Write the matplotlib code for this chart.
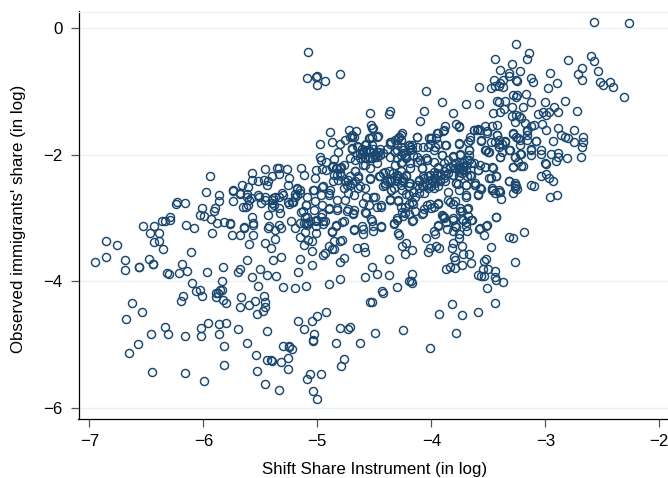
import matplotlib
matplotlib.use("Agg")
import matplotlib.pyplot as plt
import numpy as np

# (shift share instrument, observed share), both in log
low_left = [(-6.95,-3.69),(-6.85,-3.62),(-6.85,-3.37),(-6.76,-3.42),(-6.69,-3.66),(-6.69,-3.82),(-6.56,-3.78),(-6.56,-3.77),
    (-6.48,-3.64),(-6.44,-3.73),(-6.44,-3.72),(-6.32,-3.87),(-6.30,-3.88),(-6.21,-3.87),(-6.14,-3.83),(-6.19,-3.72),
    (-6.11,-3.54),(-6.35,-3.49),(-6.43,-3.38),(-6.39,-3.36),(-6.47,-3.23),(-6.39,-3.23),(-6.53,-3.13),(-6.43,-3.12),
    (-6.36,-3.05),(-6.34,-3.04),(-6.29,-3.03),(-6.29,-2.98),(-6.24,-2.78),(-6.23,-2.75),(-6.16,-2.76),(-6.15,-3.11),
    (-6.08,-3.15),(-5.98,-2.58),(-6.01,-2.84),(-6.03,-2.95),(-5.99,-2.96),(-5.91,-2.89),(-5.90,-2.84),(-5.86,-2.64),
    (-5.86,-2.73),(-5.74,-2.57),(-5.93,-3.02),(-5.88,-3.08),(-5.82,-3.06),(-5.77,-3.09),(-5.92,-3.23),(-5.75,-3.27),
    (-5.68,-3.26),(-5.64,-3.15),(-5.56,-3.27),(-5.60,-3.41),(-5.46,-3.39),(-5.41,-3.48),(-5.37,-3.33),(-5.43,-3.15),
    (-5.94,-2.33),(-5.97,-3.86),(-5.83,-3.78),(-5.70,-3.85),(-5.68,-3.81),(-5.62,-3.67),(-5.57,-3.93),(-5.50,-3.81),
    (-5.44,-3.90),(-5.36,-3.91),(-5.39,-3.67),(-5.32,-3.62),(-5.15,-3.64),(-5.17,-3.86),(-5.05,-3.74),(-5.05,-3.52),
    (-4.95,-3.59),(-4.93,-3.55),(-4.80,-3.70),(-4.77,-3.63),(-4.80,-3.97),(-4.90,-4.05),(-5.10,-4.08),(-5.20,-4.10),
    (-5.30,-4.09),(-5.52,-4.08),(-4.58,-3.93),(-5.84,-3.99),(-6.10,-4.02),(-6.03,-4.13),(-6.06,-4.16),(-6.01,-4.24),
    (-6.18,-4.24),(-6.20,-4.31),(-5.89,-4.25),(-5.89,-4.19),(-5.87,-4.18),(-5.84,-4.13),(-5.85,-4.13),(-5.83,-4.30),
    (-5.80,-4.34),(-5.67,-4.25),(-5.68,-4.40),(-5.60,-4.38),(-5.55,-4.31),(-5.47,-4.24),(-5.46,-4.33),(-5.46,-4.41),
    (-5.48,-4.47),(-5.53,-4.51),(-4.54,-4.33)]

bottom_tail = [(-6.63,-4.35),(-6.54,-4.48),(-6.68,-4.59),(-6.46,-4.83),(-6.34,-4.72),(-6.31,-4.83),(-6.57,-4.99),(-6.65,-5.13),
    (-6.16,-4.86),(-6.02,-4.86),(-6.02,-4.74),(-5.96,-4.66),(-5.86,-4.68),(-5.80,-4.66),(-5.86,-4.83),(-5.70,-4.75),
    (-5.44,-4.78),(-5.62,-4.97),(-5.82,-5.03),(-5.82,-5.33),(-5.54,-5.17),(-5.53,-5.42),(-6.45,-5.44),(-6.16,-5.45),
    (-5.99,-5.58),(-5.46,-5.63),(-5.34,-5.72),(-5.44,-5.25),(-5.41,-5.25),(-5.40,-5.26),(-5.32,-5.28),(-5.26,-5.21),
    (-5.26,-5.38),(-5.30,-5.03),(-5.25,-5.03),(-5.25,-5.04),(-5.22,-5.07),(-5.17,-4.63),(-5.12,-4.75),(-5.05,-4.63),
    (-5.00,-4.55),(-4.92,-4.48),(-5.03,-4.83),(-5.04,-4.93),(-5.04,-4.95),(-4.84,-4.98),(-4.80,-4.74),(-4.73,-4.76),
    (-4.71,-4.73),(-4.63,-4.97),(-4.77,-5.23),(-4.79,-5.34),(-4.97,-5.46),(-5.06,-5.46),(-5.09,-5.54),(-5.04,-5.74),
    (-5.00,-5.86),(-4.25,-4.77),(-4.49,-4.82),(-3.78,-4.81),(-4.01,-5.05),(-3.82,-4.36),(-3.73,-4.54),(-3.93,-4.51),
    (-3.59,-4.48),(-3.44,-4.34),(-4.43,-4.16),(-4.42,-4.19),(-4.52,-4.33),(-4.30,-4.09)]

mid_left = [(-4.87,-3.22),(-4.78,-3.06),(-4.84,-3.13),(-4.68,-3.19),(-4.60,-3.25),(-4.65,-3.48),(-4.59,-3.46),(-4.58,-3.53),
    (-4.78,-3.34),(-4.80,-3.36),(-4.85,-3.37),(-4.90,-3.44),(-4.87,-3.49),(-4.85,-3.49),(-5.12,-3.42),(-5.15,-3.30),
    (-5.05,-3.36),(-5.08,-3.34),(-5.11,-3.22),(-5.01,-3.23),(-5.14,-2.91),(-5.09,-2.98),(-5.12,-3.07),(-5.10,-3.08),
    (-5.08,-3.07),(-5.06,-3.04),(-5.01,-3.05),(-5.01,-3.12),(-4.95,-3.09),(-4.93,-3.05),(-4.96,-2.93),(-4.97,-2.98),
    (-4.90,-2.85),(-4.83,-2.87),(-4.73,-2.85),(-4.68,-2.87),(-4.69,-2.93),(-4.57,-2.92),(-5.10,-2.80),(-5.02,-2.73),
    (-5.04,-2.56),(-4.90,-2.61),(-4.96,-2.51),(-5.18,-2.54),(-5.15,-2.56),(-5.20,-2.62),(-5.18,-2.64),(-5.22,-2.75),
    (-5.25,-2.77),(-5.21,-2.74),(-5.30,-2.64),(-5.34,-2.66),(-5.37,-2.67),(-5.40,-2.71),(-5.38,-2.79),(-5.40,-2.82),
    (-5.46,-2.71),(-5.51,-2.67),(-5.58,-2.68),(-5.62,-2.62),(-5.60,-2.71),(-5.68,-2.62),(-5.63,-2.82)]

band_left = [(-5.74,-2.56),(-5.74,-2.73),(-5.66,-2.48),(-5.68,-2.61),(-5.62,-2.66),(-5.61,-2.79),(-5.65,-2.82),(-5.61,-2.51),
    (-5.57,-2.29),(-5.57,-2.39),(-5.52,-2.42),(-5.47,-2.40),(-5.46,-2.23),(-5.40,-2.34),(-5.35,-2.20),(-5.34,-2.20),
    (-5.34,-2.31),(-5.27,-2.22),(-5.14,-2.21),(-5.12,-2.32),(-5.25,-2.37),(-5.44,-2.48),(-5.43,-2.42),(-5.26,-2.48),
    (-5.31,-2.61),(-5.39,-2.68),(-5.40,-2.76),(-5.49,-2.76),(-5.52,-2.63),(-5.46,-2.67),(-5.34,-2.84),(-5.33,-2.92),
    (-5.43,-2.95),(-5.57,-2.99),(-5.56,-3.08),(-5.56,-3.11),(-5.64,-3.14),(-5.77,-3.08),(-5.42,-3.13),(-5.34,-3.11),
    (-5.32,-3.16),(-5.37,-3.19),(-5.23,-3.04),(-5.20,-3.15),(-5.26,-2.75),(-5.21,-2.75),(-5.18,-2.53),(-5.15,-2.61),
    (-5.20,-2.66),(-5.09,-2.66),(-5.10,-2.79),(-5.13,-2.89),(-5.11,-2.98),(-5.15,-3.08),(-5.09,-3.11),(-5.03,-2.55),
    (-5.02,-2.37),(-4.95,-2.49),(-4.97,-2.63),(-4.96,-2.79),(-5.03,-2.87),(-5.01,-3.03),(-4.95,-3.05),(-4.90,-2.84),
    (-4.83,-2.84),(-4.84,-3.11),(-4.77,-3.04),(-4.87,-3.21),(-4.68,-3.18),(-4.61,-3.13),(-4.60,-3.17),(-4.51,-3.13),
    (-4.44,-3.12),(-4.53,-3.01),(-4.58,-2.90),(-4.69,-2.92),(-4.74,-2.89),(-4.90,-2.63),(-4.89,-2.55),(-4.83,-2.71),
    (-4.76,-2.71),(-5.01,-2.24),(-4.96,-2.23),(-4.92,-2.24),(-4.98,-2.03),(-4.97,-2.08),(-4.92,-2.12),(-4.85,-2.07),
    (-4.82,-1.96),(-4.98,-1.82),(-4.89,-1.64),(-4.87,-1.80),(-4.80,-1.83),(-4.76,-1.76),(-4.72,-1.60),(-4.66,-1.63),
    (-4.70,-1.71),(-4.70,-1.89),(-4.64,-1.87),(-4.52,-1.57),(-4.48,-1.71),(-4.54,-1.74),(-4.58,-1.84),(-4.55,-1.92),
    (-4.51,-1.90),(-4.46,-1.95),(-4.65,-2.00),(-4.61,-1.99),(-4.71,-2.05),(-4.67,-2.08),(-4.58,-2.16),(-4.52,-2.05),
    (-4.48,-2.13),(-4.58,-2.05),(-4.45,-2.00),(-4.79,-2.19),(-4.83,-2.21),(-4.87,-2.19),(-4.80,-2.29),(-4.82,-2.40),
    (-4.86,-2.42),(-4.76,-2.42),(-4.71,-2.48),(-4.67,-2.25),(-4.64,-2.37),(-4.73,-2.61),(-4.68,-2.63),(-4.64,-2.53),
    (-4.54,-2.37),(-4.46,-2.34),(-4.41,-2.27),(-4.34,-2.29),(-4.36,-1.79),(-4.29,-1.74),(-4.30,-2.05),(-4.36,-2.40),
    (-4.41,-2.45),(-4.33,-2.53),(-4.30,-2.37),(-4.36,-2.71),(-4.48,-2.82),(-4.44,-2.80),(-4.55,-2.79),(-4.51,-2.66),
    (-4.60,-2.76),(-4.57,-2.66),(-4.30,-3.03),(-4.33,-3.08)]

top_mid = [(-5.08,-0.38),(-5.09,-0.78),(-5.01,-0.77),(-5.00,-0.76),(-5.00,-0.90),(-4.93,-0.83),(-4.80,-0.72),(-4.05,-0.99),
    (-4.06,-1.30),(-4.10,-1.47),(-4.54,-1.34),(-4.36,-1.31),(-4.37,-1.36),(-4.53,-1.53),(-4.51,-1.58),(-4.70,-1.68),
    (-4.68,-1.71),(-4.71,-1.72),(-4.47,-1.70),(-4.52,-1.72),(-4.55,-1.74),(-4.27,-1.69),(-4.28,-1.71),(-4.13,-1.71),
    (-4.35,-1.79),(-4.20,-1.84),(-4.17,-1.84),(-4.02,-1.74),(-4.70,-1.90),(-4.65,-1.86),(-4.57,-1.82),(-4.63,-1.97),
    (-4.60,-1.95),(-4.57,-1.92),(-4.54,-1.96),(-4.48,-1.95),(-4.58,-2.03),(-4.54,-2.05),(-4.49,-2.03),(-4.45,-1.91),
    (-4.42,-1.97),(-4.39,-1.90),(-4.36,-2.03),(-4.32,-1.95),(-4.27,-1.87),(-4.25,-1.97),(-4.22,-2.03),(-4.19,-1.92),
    (-4.16,-2.00),(-4.13,-1.87),(-4.10,-2.08),(-4.05,-2.05),(-4.03,-1.87),(-4.13,-2.11),(-4.19,-2.13),(-4.27,-2.13),
    (-4.86,-2.18),(-4.80,-2.21),(-4.77,-2.16),(-4.79,-2.34),(-4.85,-2.32),(-4.71,-2.34),(-4.67,-2.26),(-4.64,-2.34),
    (-4.60,-2.16),(-4.54,-2.21),(-4.54,-2.38),(-4.67,-2.42),(-4.63,-2.50),(-4.58,-2.53),(-4.45,-2.34),(-4.42,-2.29),
    (-4.37,-2.26),(-4.30,-2.32),(-4.27,-2.26),(-4.25,-2.37),(-4.22,-2.34),(-4.30,-2.42),(-4.27,-2.47),(-4.39,-2.42),
    (-4.42,-2.50),(-4.20,-2.45),(-4.11,-2.42),(-4.08,-2.21),(-4.04,-2.08),(-4.07,-2.34),(-4.04,-2.47),(-4.03,-2.34)]

upper_right = [(-2.57,0.10),(-2.27,0.08),(-3.26,-0.24),(-3.14,-0.39),(-3.16,-0.48),(-3.44,-0.49),(-3.29,-0.57),(-3.40,-0.65),
    (-3.22,-0.67),(-3.32,-0.71),(-3.32,-0.76),(-3.45,-0.82),(-3.37,-0.81),(-3.26,-0.81),(-3.25,-0.83),(-3.13,-0.78),
    (-3.11,-0.84),(-3.58,-0.93),(-3.48,-0.95),(-3.44,-0.91),(-3.40,-0.87),(-3.41,-0.91),(-3.37,-0.93),(-2.98,-0.94),
    (-2.90,-0.87),(-2.96,-0.71),(-2.80,-0.50),(-2.60,-0.43),(-2.57,-0.52),(-2.68,-0.62),(-2.71,-0.72),(-2.68,-0.82),
    (-2.54,-0.67),(-2.52,-0.84),(-2.49,-0.90),(-2.43,-0.84),(-2.41,-0.92),(-2.31,-1.08),(-2.83,-1.15),(-2.72,-1.31),
    (-3.00,-1.17),(-2.92,-1.25),(-2.89,-1.32),(-3.02,-1.32),(-2.99,-1.37),(-2.97,-1.32),(-3.06,-1.36),(-3.28,-1.05),
    (-3.25,-1.05),(-3.26,-1.08),(-3.17,-1.04),(-3.13,-1.17),(-3.41,-1.16),(-3.42,-1.15),(-3.35,-1.14),(-3.29,-1.24),
    (-3.20,-1.25),(-3.46,-1.34),(-3.40,-1.32),(-3.36,-1.27),(-3.29,-1.38),(-3.26,-1.37),(-3.23,-1.38),(-3.21,-1.42),
    (-3.18,-1.49),(-3.27,-1.48),(-3.10,-1.53),(-3.13,-1.55),(-3.16,-1.61),(-3.16,-1.69),(-3.03,-1.51),(-2.99,-1.61),
    (-2.89,-1.58),(-2.75,-1.61),(-2.86,-1.69),(-2.83,-1.72),(-2.80,-1.73),(-2.75,-1.79),(-2.67,-1.72),(-2.67,-1.79),
    (-2.68,-1.88),(-2.93,-1.78),(-3.08,-1.78),(-3.28,-1.67),(-3.26,-1.72),(-3.22,-1.76),(-3.22,-1.84),(-3.16,-1.76),
    (-3.13,-1.92),(-3.13,-2.00),(-3.04,-1.93),(-3.04,-1.99),(-2.95,-1.99),(-2.89,-1.97),(-2.89,-2.03),(-2.91,-2.10),
    (-2.81,-2.05),(-2.69,-2.04),(-3.00,-2.13),(-2.99,-2.14),(-3.04,-2.33),(-2.99,-2.30),(-2.97,-2.36),(-2.93,-2.41),
    (-3.27,-2.03),(-3.22,-1.98),(-3.24,-2.11),(-3.20,-2.17),(-3.28,-2.19),(-3.32,-2.42),(-3.27,-2.44),(-3.26,-2.50),
    (-3.13,-2.48),(-3.10,-2.49),(-2.96,-2.66),(-2.90,-2.64)]

core_right = [(-3.42,-1.53),(-3.47,-1.54),(-3.53,-1.55),(-3.51,-1.63),(-3.57,-1.61),(-3.63,-1.60),(-3.60,-1.60),(-3.66,-1.71),
    (-3.56,-1.76),(-3.42,-1.68),(-3.41,-1.76),(-3.48,-1.80),(-3.44,-1.79),(-3.41,-1.87),(-3.35,-1.79),(-3.38,-1.83),
    (-3.32,-1.92),(-3.40,-2.04),(-3.38,-1.95),(-3.52,-1.93),(-3.49,-1.96),(-3.68,-1.79),(-3.76,-1.82),(-3.67,-1.92),
    (-3.67,-2.00),(-3.67,-2.08),(-3.65,-2.13),(-3.91,-1.17),(-3.70,-1.19),(-3.58,-1.19),(-3.81,-1.34),(-3.78,-1.51),
    (-3.76,-1.55),(-3.88,-1.55),(-3.90,-1.62),(-3.94,-1.66),(-3.96,-1.74),(-4.00,-1.74),(-3.94,-1.82),(-3.88,-1.84),
    (-3.97,-1.87),(-4.01,-1.82),(-3.81,-2.01),(-3.75,-1.99),(-3.91,-2.00),(-3.98,-2.11),(-3.94,-2.19),(-3.89,-2.13),
    (-3.85,-2.08),(-3.84,-2.19),(-3.79,-2.13),(-3.76,-2.21),(-3.72,-2.13),(-3.72,-2.24),(-3.69,-2.34),(-3.89,-2.26),
    (-3.85,-2.29),(-3.95,-2.32),(-3.98,-2.37),(-3.92,-2.40),(-3.88,-2.42),(-3.81,-2.32),(-3.76,-2.34),(-3.65,-2.34),
    (-3.78,-2.45),(-3.70,-2.47),(-3.62,-2.45),(-3.57,-2.53),(-3.57,-2.16),(-3.53,-2.19),(-3.46,-2.21),(-3.59,-2.24),
    (-3.48,-2.37),(-3.43,-2.34),(-3.63,-2.13),(-3.46,-2.55),(-3.41,-2.55)]

lower_right = [(-3.28,-2.60),(-3.25,-2.54),(-3.27,-2.48),(-3.27,-2.52),(-3.39,-2.69),(-3.40,-2.59),(-3.44,-2.60),(-3.47,-2.55),
    (-3.56,-2.54),(-3.59,-2.63),(-3.62,-2.47),(-3.70,-2.48),(-3.77,-2.46),(-3.70,-2.66),(-3.43,-2.98),(-3.52,-3.12),
    (-3.58,-3.17),(-3.54,-3.26),(-3.19,-3.22),(-3.32,-3.30),(-3.28,-3.31),(-3.27,-3.69),(-3.48,-3.46),(-3.64,-3.03),
    (-3.69,-2.85),(-3.68,-2.96),(-3.73,-2.89),(-3.75,-2.88),(-3.70,-3.06),(-3.73,-3.02),(-3.69,-3.20),(-3.78,-3.14),
    (-3.81,-3.03),(-3.86,-3.18),(-3.81,-3.20),(-3.76,-3.25),(-3.76,-3.31),(-3.87,-3.06),(-3.94,-3.13),(-3.90,-2.97),
    (-3.89,-2.99),(-3.97,-3.25),(-4.05,-3.31),(-4.08,-2.93),(-4.17,-3.04),(-4.28,-3.26),(-4.44,-3.14),(-4.51,-3.20),
    (-4.52,-3.04),(-4.33,-3.09),(-4.25,-2.96),(-4.26,-2.90),(-4.20,-2.93),(-4.14,-2.88),(-4.20,-2.77),(-4.17,-2.75),
    (-4.06,-2.85),(-4.01,-2.77),(-3.98,-2.83),(-3.94,-2.76),(-3.84,-2.75),(-3.79,-2.73),(-4.27,-2.83),(-4.29,-2.73),
    (-4.36,-2.72),(-4.44,-2.82),(-4.49,-2.67),(-4.22,-2.62),(-4.35,-2.56),(-4.41,-2.48),(-4.17,-3.89),(-4.37,-3.90),
    (-4.48,-3.89),(-4.52,-3.78),(-4.37,-3.65),(-4.17,-3.51),(-4.23,-3.56),(-4.26,-3.44),(-4.22,-3.39),(-4.03,-3.53),
    (-4.01,-3.47),(-3.96,-3.44),(-3.93,-3.48),(-3.82,-3.48),(-3.81,-3.40),(-3.73,-3.44),(-3.80,-3.61),(-3.79,-3.67),
    (-3.72,-3.57),(-3.67,-3.57),(-3.65,-3.71),(-3.73,-3.74),(-3.79,-3.79),(-3.84,-3.78),(-3.87,-3.80),(-3.52,-3.64),
    (-3.54,-3.68),(-3.55,-3.81),(-3.50,-3.81),(-3.44,-3.83),(-3.59,-3.90),(-3.56,-3.92),(-3.54,-3.91),(-3.44,-3.93),
    (-3.43,-3.98),(-3.37,-4.01),(-3.51,-4.10),(-4.20,-4.00),(-4.17,-4.02),(-4.18,-4.00)]

core_center = [(-4.26,-1.66),(-4.27,-1.77),(-4.13,-1.71),(-4.36,-1.82),(-4.30,-1.92),(-4.19,-1.87),(-4.22,-2.05),(-4.26,-2.11),
    (-4.32,-2.16),(-4.13,-2.03),(-4.07,-1.87),(-4.00,-1.74),(-3.95,-1.66),(-3.89,-1.61),(-3.76,-1.56),(-3.76,-1.81),
    (-3.87,-1.84),(-3.98,-1.92),(-3.91,-2.00),(-3.81,-2.03),(-3.75,-2.00),(-3.67,-1.92),(-3.66,-1.77),(-3.63,-1.61),
    (-3.59,-1.59),(-3.51,-1.66),(-3.42,-1.69),(-3.35,-1.78),(-3.41,-1.82),(-3.31,-1.92),(-3.28,-1.66),(-3.24,-1.74),
    (-3.16,-1.63),(-3.08,-1.78),(-3.13,-1.90),(-3.21,-1.99),(-3.27,-2.03),(-3.28,-2.19),(-3.21,-2.17),(-3.40,-2.04),
    (-3.50,-1.95),(-3.53,-1.92),(-3.56,-1.78),(-3.47,-2.19),(-3.43,-2.34),(-3.49,-2.37),(-3.53,-2.19),(-3.59,-2.24),
    (-3.69,-2.08),(-3.66,-2.32),(-3.62,-2.48),(-3.57,-2.53),(-3.59,-2.62),(-3.47,-2.53),(-3.41,-2.58),(-3.32,-2.42),
    (-3.70,-2.64),(-3.76,-2.55),(-3.78,-2.45),(-3.85,-2.58),(-3.85,-2.71),(-3.81,-2.77),(-3.75,-2.84),(-3.68,-2.84),
    (-3.91,-2.95),(-3.89,-3.00),(-3.81,-3.00),(-3.72,-3.03),(-3.65,-3.03),(-3.70,-3.13),(-3.79,-3.13),(-3.94,-3.11),
    (-3.98,-3.21),(-3.57,-3.16),(-3.51,-3.11),(-3.43,-2.98),(-4.16,-3.03),(-4.07,-2.92),(-4.23,-2.92),(-4.30,-3.00),
    (-4.29,-3.24),(-4.29,-2.71),(-4.20,-2.63),(-4.36,-2.69),(-4.00,-2.84),(-3.94,-2.77),(-4.04,-2.79),(-4.16,-2.77),
    (-4.23,-2.82),(-4.06,-2.61),(-4.11,-2.53),(-4.19,-2.45),(-4.29,-2.34),(-4.35,-2.42),(-4.22,-2.32),(-4.11,-2.40),
    (-4.00,-2.40),(-3.92,-2.32),(-3.87,-2.21),(-3.81,-2.16),(-3.75,-2.19),(-3.70,-2.24),(-3.98,-2.27),(-4.08,-2.21),
    (-4.19,-2.21),(-3.98,-2.53),(-3.94,-2.50),(-4.04,-2.08),(-4.35,-2.55),(-4.26,-2.55),(-4.03,-2.34),(-3.97,-2.37),
    (-4.01,-2.45),(-3.95,-2.29),(-3.73,-2.24),(-3.76,-2.16),(-3.70,-2.16),(-4.30,-2.32),(-4.32,-2.40),(-4.26,-2.40),
    (-4.08,-2.48),(-4.11,-2.61),(-4.14,-2.66)]

core_dense = [(-4.61,-1.90),(-4.57,-1.82),(-4.52,-1.84),(-4.49,-1.98),(-4.63,-2.05),(-4.55,-2.03),(-4.48,-2.03),(-4.60,-1.95),
    (-4.84,-2.21),(-4.80,-2.21),(-4.83,-2.32),(-4.74,-2.48),(-4.77,-2.53),(-4.70,-2.45),(-4.73,-2.40),(-4.32,-1.77),
    (-4.30,-1.82),(-4.25,-1.92),(-4.20,-1.84),(-4.17,-1.90),(-4.27,-2.00),(-4.23,-2.00),(-4.06,-2.37),(-4.01,-2.32),
    (-4.00,-2.50),(-3.97,-2.45),(-3.92,-2.42),(-3.89,-2.37),(-3.94,-2.21),(-3.88,-2.32),(-4.07,-2.50),(-4.03,-2.53),
    (-3.79,-2.21),(-3.76,-2.27),(-3.72,-2.19),(-3.73,-2.29),(-3.81,-2.32),(-4.13,-2.48),(-4.16,-2.58),(-4.20,-2.50),
    (-4.25,-2.42)]

x_ticks = [-7, -6, -5, -4, -3, -2]
y_ticks = [-6, -4, -2, 0]

groups = [low_left, bottom_tail, mid_left, band_left, top_mid, upper_right, core_right, lower_right, core_center, core_dense]
pts = np.array([p for g in groups for p in g])

plt.rcParams['font.family'] = ['Liberation Sans', 'DejaVu Sans']

fig = plt.figure(figsize=(6.68, 4.78), dpi=100)
ax = fig.add_axes([78.5 / 668, (478 - 418.5) / 478, (668 - 78.5) / 668, (418.5 - 11.5) / 478])

ax.plot(pts[:, 0], pts[:, 1], 'o', mfc='none', mec='#1a476f', ms=5.8, mew=1.05, zorder=3)

ax.set_xlim(-7.095, -1.924)
ax.set_ylim(-6.17, 0.268)
ax.set_xticks(x_ticks)
ax.set_yticks(y_ticks)
ax.set_xticklabels([f"\u2212{abs(t)}" for t in x_ticks])
ax.set_yticklabels([f"\u2212{abs(t)}" if t else "0" for t in y_ticks])
ax.tick_params(axis='both', length=6, width=0.9, color='#555555', labelsize=12.2, pad=5.5)

ax.grid(axis='y', color='#eaf2f3', linewidth=1.0, zorder=1)
ax.set_axisbelow(True)

ax.spines['right'].set_visible(False)
ax.spines['top'].set_color('#eaf2f3')
ax.spines['left'].set_linewidth(0.9)
ax.spines['bottom'].set_linewidth(0.9)

ax.set_xlabel("Shift Share Instrument (in log)", fontsize=12.2)
ax.set_ylabel("Observed immigrants' share (in log)", fontsize=12.2)
ax.xaxis.set_label_coords((374.5 - 78.5) / 589.5, -(462 - 418.5) / 407)
ax.yaxis.set_label_coords(-(78.5 - 26) / 589.5, (418.5 - 219) / 407)

fig.savefig("out.png", dpi=100)
